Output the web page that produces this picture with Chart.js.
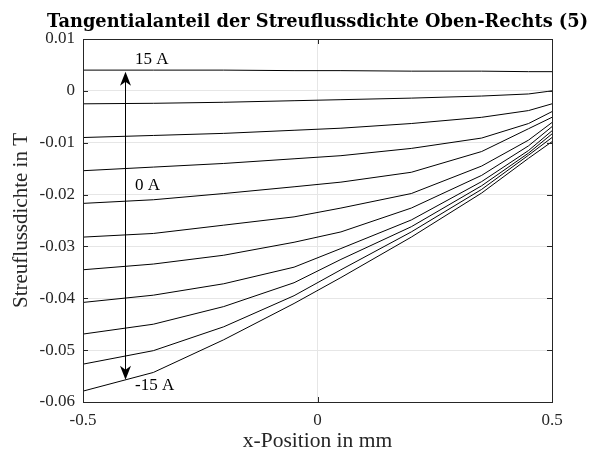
<!DOCTYPE html>
<html>
<head>
<meta charset="utf-8">
<script src="https://cdn.jsdelivr.net/npm/chart.js@4"></script>
<style>
  html, body { margin: 0; padding: 0; background: #fff; }
</style>
</head>
<body>
<canvas id="fluxChart" width="593" height="455"></canvas>
<script>
// x positions of the samples (mm)
const xPos = [-0.5, -0.35, -0.2, -0.05, 0.05, 0.2, 0.35, 0.45, 0.5];

// Streuflussdichte (T) per current, 15 A down to -15 A
const b15 = [0.0040, 0.0040, 0.0040, 0.0039, 0.0039, 0.0038, 0.0038, 0.0037, 0.0037];
const b12 = [-0.0025, -0.0024, -0.0022, -0.0019, -0.0017, -0.0014, -0.0010, -0.0006, 0.0000];
const b9 = [-0.0090, -0.0086, -0.0082, -0.0076, -0.0072, -0.0063, -0.0051, -0.0038, -0.0025];
const b6 = [-0.0154, -0.0147, -0.0140, -0.0131, -0.0125, -0.0111, -0.0091, -0.0063, -0.0040];
const b3 = [-0.0217, -0.0210, -0.0198, -0.0185, -0.0176, -0.0157, -0.0117, -0.0073, -0.0051];
const b0 = [-0.0282, -0.0275, -0.0259, -0.0243, -0.0226, -0.0198, -0.0145, -0.0095, -0.0061];
const bm3 = [-0.0345, -0.0334, -0.0317, -0.0292, -0.0272, -0.0226, -0.0163, -0.0106, -0.0069];
const bm6 = [-0.0408, -0.0394, -0.0372, -0.0340, -0.0304, -0.0249, -0.0175, -0.0115, -0.0077];
const bm9 = [-0.0469, -0.0450, -0.0416, -0.0370, -0.0325, -0.0262, -0.0183, -0.0120, -0.0083];
const bm12 = [-0.0527, -0.0501, -0.0455, -0.0395, -0.0345, -0.0272, -0.0190, -0.0124, -0.0090];
const bm15 = [-0.0579, -0.0543, -0.0480, -0.0410, -0.0360, -0.0282, -0.0197, -0.0130, -0.0098];

const series = [b15, b12, b9, b6, b3, b0, bm3, bm6, bm9, bm12, bm15];
const currents = ["15 A", "12 A", "9 A", "6 A", "3 A", "0 A", "-3 A", "-6 A", "-9 A", "-12 A", "-15 A"];

const xTickLabels = ["-0.5", "0", "0.5"];
const yTickLabels = ["-0.06", "-0.05", "-0.04", "-0.03", "-0.02", "-0.01", "0", "0.01"];

const titleText = "Tangentialanteil der Streuflussdichte Oben-Rechts (5)";

// annotation: arrow and current labels (data units)
const arrowX = -0.41;
const arrowTop = 0.0037;
const arrowBottom = -0.0557;
const notes = [
  { text: "15 A", x: -0.389, y: 0.0061 },
  { text: "0 A", x: -0.389, y: -0.0183 },
  { text: "-15 A", x: -0.389, y: -0.0569 },
];

const serif = "'Liberation Serif', 'Times New Roman', serif";
const axisColor = "#262626";

// Box, inner tick marks, arrow, labels and the title (centred on the axes)
const overlay = {
  id: "overlay",
  afterDatasetsDraw(chart) {
    const { ctx, chartArea: a, scales } = chart;
    const xs = scales.x, ys = scales.y;
    ctx.save();

    // arrow
    const ax = Math.round(xs.getPixelForValue(arrowX)) + 0.5;
    const yTop = ys.getPixelForValue(arrowTop);
    const yBot = ys.getPixelForValue(arrowBottom);
    ctx.strokeStyle = "#000";
    ctx.lineWidth = 1;
    ctx.beginPath();
    ctx.moveTo(ax, yTop + 6);
    ctx.lineTo(ax, yBot - 6);
    ctx.stroke();
    ctx.fillStyle = "#000";
    const head = (tipY, dir) => {
      ctx.beginPath();
      ctx.moveTo(ax, tipY);
      ctx.lineTo(ax - 5.5, tipY + dir * 14);
      ctx.lineTo(ax, tipY + dir * 10);
      ctx.lineTo(ax + 5.5, tipY + dir * 14);
      ctx.closePath();
      ctx.fill();
    };
    head(yTop, 1);
    head(yBot, -1);

    // labels
    ctx.font = "17px " + serif;
    ctx.textAlign = "left";
    ctx.textBaseline = "middle";
    notes.forEach((n) => {
      ctx.fillText(n.text, xs.getPixelForValue(n.x), ys.getPixelForValue(n.y));
    });

    // frame
    ctx.strokeStyle = axisColor;
    ctx.lineWidth = 1;
    ctx.strokeRect(a.left + 0.5, a.top + 0.5, a.right - a.left, a.bottom - a.top);

    // inward ticks
    ctx.beginPath();
    ys.ticks.forEach((t) => {
      const py = Math.round(ys.getPixelForValue(t.value)) + 0.5;
      ctx.moveTo(a.left, py);
      ctx.lineTo(a.left + 5, py);
      ctx.moveTo(a.right, py);
      ctx.lineTo(a.right - 5, py);
    });
    xs.ticks.forEach((t) => {
      const px = Math.round(xs.getPixelForValue(t.value)) + 0.5;
      ctx.moveTo(px, a.bottom);
      ctx.lineTo(px, a.bottom - 5);
      ctx.moveTo(px, a.top);
      ctx.lineTo(px, a.top + 5);
    });
    ctx.stroke();

    // title
    ctx.fillStyle = "#000";
    ctx.font = "bold 17.8px 'DejaVu Serif', serif";
    ctx.textAlign = "center";
    ctx.textBaseline = "middle";
    ctx.fillText(titleText, (a.left + a.right) / 2, 22);
    ctx.restore();
  },
};

const ctx = document.getElementById("fluxChart").getContext("2d");
const fluxChart = new Chart(ctx, {
  type: "line",
  data: {
    datasets: series.map((vals, i) => ({
      label: currents[i],
      data: vals.map((v, j) => ({ x: xPos[j], y: v })),
      borderColor: "#000",
      borderWidth: 1,
      pointRadius: 0,
      tension: 0,
      fill: false,
    })),
  },
  options: {
    responsive: false,
    animation: false,
    layout: { padding: { left: 0, right: 41, top: 39, bottom: 0 } },
    plugins: {
      legend: { display: false },
      tooltip: { enabled: false },
      title: { display: false },
    },
    scales: {
      x: {
        type: "linear",
        min: -0.5,
        max: 0.5,
        ticks: {
          stepSize: 0.5,
          color: axisColor,
          font: { family: serif, size: 17 },
          padding: 8,
          callback: (v, i) => xTickLabels[i],
        },
        grid: { color: "#e6e6e6", drawTicks: false },
        border: { display: false },
        title: {
          display: true,
          text: "x-Position in mm",
          color: axisColor,
          font: { family: serif, size: 21.5 },
          padding: { top: 0, bottom: 1 },
        },
        afterFit: (s) => { s.height = 53; },
      },
      y: {
        type: "linear",
        min: -0.06,
        max: 0.01,
        ticks: {
          stepSize: 0.01,
          color: axisColor,
          font: { family: serif, size: 17 },
          padding: 8,
          callback: (v, i) => yTickLabels[i],
        },
        grid: { color: "#e6e6e6", drawTicks: false },
        border: { display: false },
        title: {
          display: true,
          text: "Streuflussdichte in T",
          color: axisColor,
          font: { family: serif, size: 21 },
          padding: { top: 9, bottom: 0 },
        },
        afterFit: (s) => { s.width = 83; },
      },
    },
  },
  plugins: [overlay],
});
</script>
</body>
</html>
